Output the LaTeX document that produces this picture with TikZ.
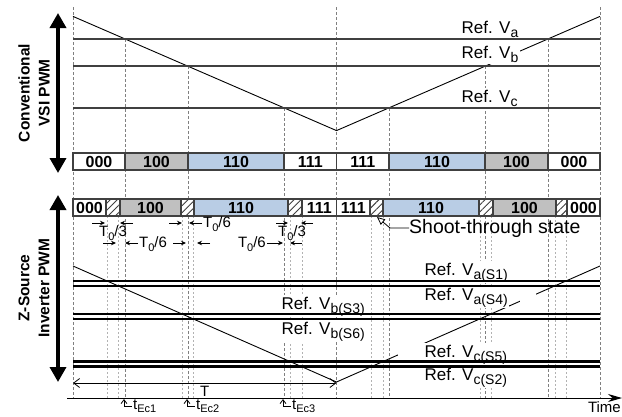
\documentclass[tikz,border=0pt]{standalone}
\usepackage{fontspec}
\setmainfont{Liberation Sans}
\usepackage{tikz}
\usetikzlibrary{arrows.meta, patterns.meta}
\definecolor{cellgray}{RGB}{192,192,192}
\definecolor{cellblue}{RGB}{185,205,229}
\definecolor{framegray}{RGB}{64,64,64}
\newcommand{\lo}[2][14]{\raisebox{-0.45ex}{\fontsize{#1}{#1}\selectfont #2}}

\begin{document}
\begin{tikzpicture}[x=1pt, y=-1pt,
    cell/.style={draw=framegray, line width=1.4pt, fill=white},
    graycell/.style={cell, fill=cellgray},
    bluecell/.style={cell, fill=cellblue},
    hatchcell/.style={draw=framegray, line width=1.4pt, preaction={fill=white},
                      pattern={Lines[angle=45, distance=5pt, line width=0.9pt]}, pattern color=framegray},
    code/.style={font=\fontsize{16}{16}\selectfont\bfseries, inner sep=0pt},
    reflbl/.style={anchor=base west, fill=white, inner sep=1.5pt, font=\fontsize{17}{17}\selectfont},
    dimlbl/.style={font=\fontsize{15}{15}\selectfont, inner sep=0pt},
    dimarr/.style={-{Stealth[length=5pt, width=4.5pt]}, line width=0.8pt},
    guide/.style={gray, line width=0.9pt, dash pattern=on 2.5pt off 2.5pt},
    subguide/.style={gray!60, line width=0.9pt, dash pattern=on 1.5pt off 2.5pt},
    sideaxis/.style={{Triangle[length=15pt, width=16pt]}-{Triangle[length=15pt, width=16pt]}, line width=3.5pt},
    sidelbl/.style={rotate=90, align=center, font=\fontsize{15.5}{20}\selectfont\bfseries}
]
\useasboundingbox (0,0) rectangle (622,416);

% Period borders and crossing guides
\foreach \x in {73, 336.5, 600}
    \draw[guide] (\x,7) -- (\x,398);
\foreach \x/\y in {125/39, 188/66, 284/108, 389/108, 485/66, 548/39}
    \draw[guide] (\x,\y) -- (\x,398);
\foreach \x in {107, 118, 182, 193, 290, 302, 371, 383, 480, 491, 555, 566}
    \draw[subguide] (\x,216) -- (\x,398);

% Carriers
\draw[line width=0.9pt] (73,16.4) -- (336.5,130.6) -- (600,16.4);
\draw[line width=0.9pt] (73,266) -- (336.5,382) -- (600,266);
\fill[white] (398,343) rectangle (424,360);
\fill[white] (520,287) rectangle (536,304);

% Reference labels
\node[reflbl] (va) at (460,33) {Ref. V\lo{a}};
\node[reflbl] (vb) at (460,58) {Ref. V\lo{b}};
\node[reflbl] (vc) at (460,102) {Ref. V\lo{c}};
\node[reflbl] (vas1) at (423,275) {Ref. V\lo{a(S1)}};
\node[reflbl] (vas4) at (423,300) {Ref. V\lo{a(S4)}};
\node[reflbl] (vbs3) at (280,309) {Ref. V\lo{b(S3)}};
\node[reflbl] (vbs6) at (280,334) {Ref. V\lo{b(S6)}};
\node[reflbl] (vcs5) at (423,357) {Ref. V\lo{c(S5)}};
\node[reflbl] (vcs2) at (423,380) {Ref. V\lo{c(S2)}};

% Conventional references
\foreach \y in {39, 66, 108}
    \draw[framegray, line width=1.2pt] (73,\y) -- (600,\y);

% Z-source references
\foreach \y in {281, 286, 314, 319, 361.5, 366.5}
    \draw[line width=2.6pt] (73,\y) -- (600,\y);

% Conventional switching states
\foreach \a/\b/\lab/\st [count=\i] in {73/125/000/cell, 125/188/100/graycell, 188/284/110/bluecell,
        284/336.5/111/cell, 336.5/389/111/cell, 389/485/110/bluecell, 485/548/100/graycell, 548/600/000/cell}
{
    \draw[\st] (\a,153) rectangle (\b,170);
    \node[code] (top\i) at ({(\a+\b)/2},161.5) {\lab};
}

% Z-source switching states
\foreach \a/\b/\lab/\st [count=\i] in {73/106/000/cell, 120/181/100/graycell, 194/288/110/bluecell,
        302/336.5/111/cell, 336.5/370/111/cell, 383/479/110/bluecell, 493/556/100/graycell, 567/600/000/cell}
{
    \draw[\st] (\a,199) rectangle (\b,216);
    \node[code] (bot\i) at ({(\a+\b)/2},207.5) {\lab};
}
\foreach \a/\b in {106/120, 181/194, 288/302, 370/383, 479/493, 556/567}
    \draw[hatchcell] (\a,199) rectangle (\b,216);

% Shoot-through note
\node[anchor=base west, inner sep=0pt, font=\fontsize{19.5}{19.5}\selectfont] (shoot) at (409,233) {Shoot-through state};
\draw[-{Triangle[open, length=8pt, width=7pt]}, line width=0.8pt] (shoot.west) -- ++(-19,0) -- (377,217);

% Shoot-through widths
\draw[dimarr] (92,223) -- (105,223);
\draw[dimarr] (133,223) -- (120,223);
\node[dimlbl] (d1) at (113,233) {T\lo[11]{0}/3};
\draw[dimarr] (103,243) -- (116,243);
\draw[dimarr] (138,243) -- (125,243);
\node[dimlbl, anchor=west] (d2) at (139,244) {T\lo[11]{0}/6};
\draw[dimarr] (169,223) -- (182,223);
\draw[dimarr] (202,223) -- (189,223);
\node[dimlbl, anchor=west] (d3) at (203,224) {T\lo[11]{0}/6};
\draw[dimarr] (173,243) -- (186,243);
\draw[dimarr] (210,243) -- (197,243);
\draw[dimarr] (276,223) -- (288,223);
\draw[dimarr] (313,223) -- (301,223);
\node[dimlbl] (d4) at (292,233) {T\lo[11]{0}/3};
\draw[dimarr] (267,243) -- (283,243);
\draw[dimarr] (302,243) -- (290,243);
\node[dimlbl, anchor=east] (d5) at (266,244) {T\lo[11]{0}/6};

% Half period
\draw[{Straight Barb[length=6pt, width=9pt]}-{Straight Barb[length=6pt, width=9pt]}, line width=0.8pt] (73,383) -- (336.5,383);
\node[dimlbl] (tlen) at (204.75,391) {T};

% Time axis and equivalent instants
\draw[-{Stealth[length=14pt, width=8pt]}, line width=1pt] (67,398) -- (622,398);
\node[dimlbl, anchor=north east] (time) at (621,401) {Time};
\foreach \x/\n in {124/1, 187/2, 283/3}
{
    \draw[{Straight Barb[length=4pt, width=6pt]}-, line width=0.8pt] (\x,399) -- (\x,406) -- (\x+8,406);
    \node[dimlbl, anchor=west] (tec\n) at (\x+9,406) {t\lo[11]{Ec\n}};
}

% Side arrows
\draw[sideaxis] (58,13) -- (58,173);
\node[sidelbl] (conv) at (34,93) {Conventional\\VSI PWM};
\draw[sideaxis] (58,195) -- (58,382);
\node[sidelbl] (zsrc) at (34,288) {Z-Source\\Inverter PWM};

\end{tikzpicture}
\end{document}
